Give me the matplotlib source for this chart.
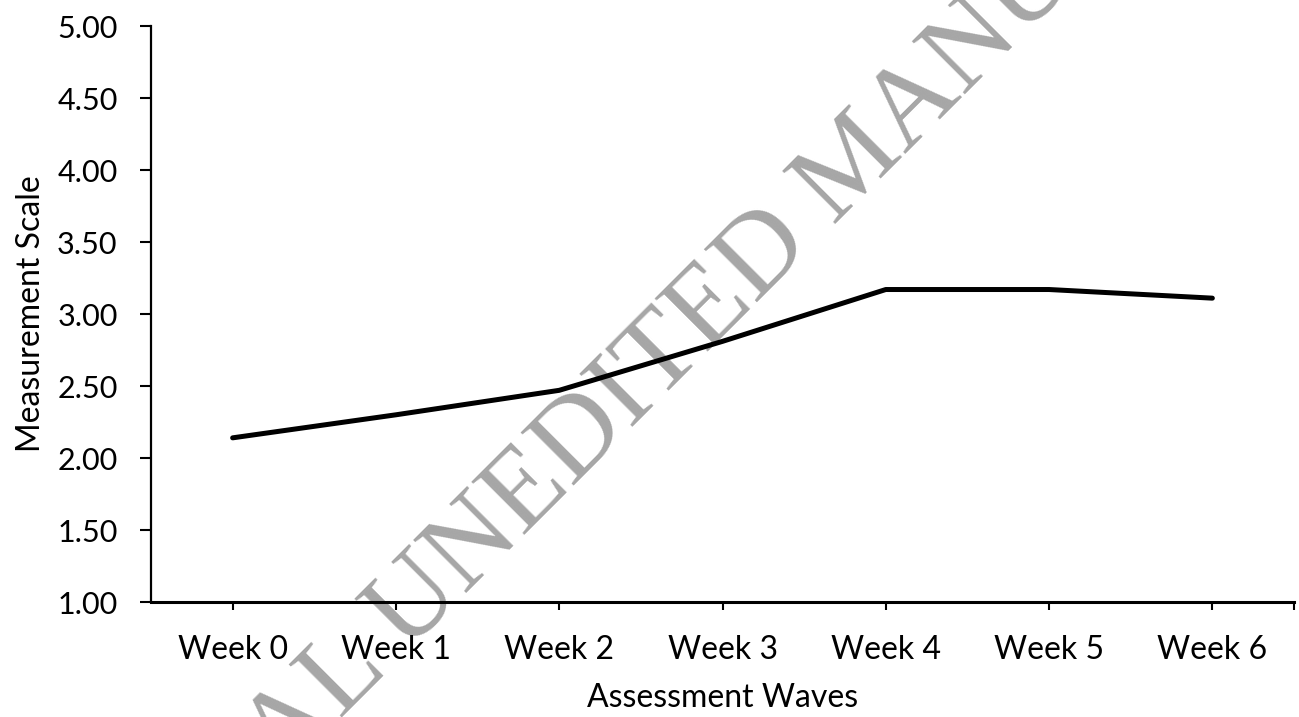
import matplotlib
matplotlib.use("Agg")
import matplotlib.pyplot as plt

categories = ["Week 0", "Week 1", "Week 2", "Week 3", "Week 4", "Week 5", "Week 6"]
values = [2.14, 2.30, 2.47, 2.81, 3.17, 3.17, 3.11]
y_ticks = [1.00, 1.50, 2.00, 2.50, 3.00, 3.50, 4.00, 4.50, 5.00]
x_label = "Assessment Waves"
y_label = "Measurement Scale"
watermark = "FINAL UNEDITED MANUSCRIPT"

plt.rcParams['font.family'] = ['Lato', 'DejaVu Sans']

fig = plt.figure(figsize=(12.99, 7.17), dpi=100)
ax = fig.add_axes([151/1299, 1-602/717, (1294-151)/1299, (602-26)/717])

# watermark
fig.text(733/1299, 1-288/717, watermark, rotation=45, rotation_mode='anchor',
         ha='center', va='center', fontsize=82, color='#a6a6a6',
         family=['Liberation Serif'], zorder=0)
ax.set_zorder(1)
ax.patch.set_alpha(0)

xs = list(range(len(categories)))
ax.plot(xs, values, color='black', lw=3.6, solid_capstyle='round',
        solid_joinstyle='round', zorder=3)

ax.set_xlim(-0.5, len(categories) - 0.5)
ax.set_ylim(y_ticks[0], y_ticks[-1])
ax.set_yticks(y_ticks)
ax.set_yticklabels([f"{v:.2f}" for v in y_ticks])
ax.set_xticks(xs + [len(categories) - 0.5])
ax.set_xticklabels(categories + [""])

for s in ['top', 'right']:
    ax.spines[s].set_visible(False)
ax.spines['left'].set_linewidth(1.6)
ax.spines['bottom'].set_linewidth(2.2)
ax.tick_params(axis='y', direction='out', length=8, width=1.5, labelsize=22, pad=16)
ax.tick_params(axis='x', direction='out', length=6, width=1.5, labelsize=23, pad=17.5)

ax.set_xlabel(x_label, fontsize=23, labelpad=13.5)
ax.set_ylabel(y_label, fontsize=23, labelpad=8)

fig.savefig("out.png", dpi=100)
